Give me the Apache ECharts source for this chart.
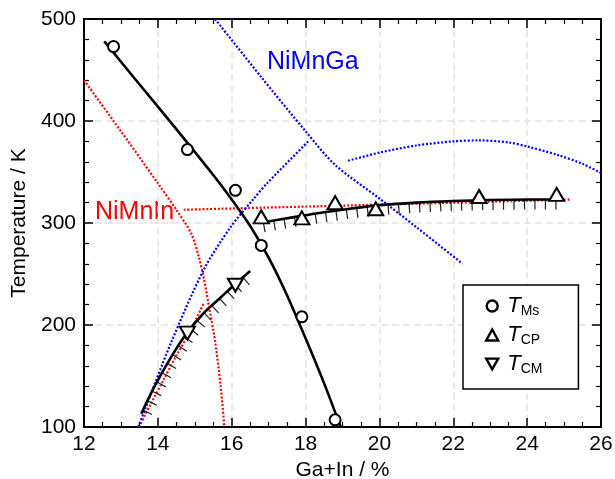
<!DOCTYPE html>
<html>
<head>
<meta charset="utf-8">
<script src="https://cdn.jsdelivr.net/npm/echarts@6/dist/echarts.min.js"></script>
<style>
  html, body { margin: 0; padding: 0; background: #fff; }
  #chart { width: 615px; height: 479px; }
</style>
</head>
<body>
<div id="chart"></div>
<script>
// measured points
const msX = [12.8, 14.8, 16.1, 16.8, 17.9, 18.8]
const msT = [473, 372, 332, 278, 208, 107]
const cpX = [16.8, 17.9, 18.8, 19.9, 22.7, 24.8]
const cpT = [306, 305, 320, 314, 326, 328]
const cmX = [14.8, 16.1]
const cmT = [192, 239]

// guide curves (black, drawn by hand in the original)
const msFitX = [12.55, 13.5, 14.5, 15.5, 16.0, 16.5, 17.0, 17.5, 18.0, 18.5, 18.95]
const msFitT = [478, 436, 392, 347, 323, 297, 266, 229, 187, 143, 100]
const cpFitX = [16.75, 17.3, 17.9, 18.5, 19.2, 20.0, 21.0, 22.0, 23.0, 24.0, 25.0]
const cpFitT = [300, 303.5, 307, 310.5, 314, 317.5, 320, 321.5, 322.5, 323, 323]
const cmFitX = [13.55, 13.9, 14.35, 14.76, 15.25, 15.7, 16.06, 16.5]
const cmFitT = [113, 139, 168, 191, 212, 227, 239, 253]

// NiMnIn phase diagram (red dotted)
const inAX = [12.0, 13.0, 14.0, 14.5, 14.9, 15.1, 15.25, 15.4, 15.55, 15.7, 15.8]
const inAT = [440, 390, 339, 313, 290, 268, 245, 215, 184, 140, 100]
const inBX = [13.49, 13.8, 14.15, 14.5, 14.85, 15.25]
const inBT = [100, 122, 146, 170, 192, 222]
const inCX = [14.7, 20.0, 25.2]
const inCT = [313, 318, 323]

// NiMnGa phase diagram (blue dotted)
const gaAX = [13.47, 13.68, 14.35, 15.24, 15.97, 16.6, 16.96, 18.1]
const gaAT = [100, 120, 182, 254, 296, 324, 339, 381]
const gaBX = [15.55, 16.8, 18.0, 18.8, 20.0, 21.0, 22.25]
const gaBT = [500, 443, 390, 357, 324, 296, 260]
const gaCX = [19.15, 20.0, 21.0, 22.0, 22.7, 23.5, 24.0, 24.8, 25.5, 26.0]
const gaCT = [361, 369, 376, 380, 381, 379, 375, 367, 358, 349]

const xTicks = [12, 14, 16, 18, 20, 22, 24, 26]
const yTicks = [100, 200, 300, 400, 500]

const FONT = 'Liberation Sans'
const zip = (xs, ys) => xs.map((x, i) => [x, ys[i]])

const dotted = (name, xs, ys, color) => ({
    name: name,
    type: 'line',
    data: zip(xs, ys),
    smooth: 0.3,
    showSymbol: false,
    silent: true,
    z: 1,
    lineStyle: { color: color, width: 2.2, type: [2, 1.8] }
})

const guide = (xs, ys) => ({
    type: 'line',
    data: zip(xs, ys),
    smooth: 0.3,
    showSymbol: false,
    silent: true,
    z: 3,
    lineStyle: { color: '#000', width: 2.6 }
})

// hatch marks: short strokes normal to the guide curve, on its lower side
const hatch = (xs, ys) => ({
    type: 'custom',
    silent: true,
    z: 2,
    data: [[xs[0], ys[0]]],
    renderItem: function (params, api) {
        const pts = xs.map((x, i) => api.coord([x, ys[i]]))
        const step = 10.5, len = 10
        const children = []
        let next = 4
        for (let i = 0; i < pts.length - 1; i++) {
            const a = pts[i], b = pts[i + 1]
            const dx = b[0] - a[0], dy = b[1] - a[1]
            const seg = Math.sqrt(dx * dx + dy * dy)
            const nx = -dy / seg, ny = dx / seg
            let t = next
            while (t <= seg) {
                const px = a[0] + dx * t / seg, py = a[1] + dy * t / seg
                children.push({
                    type: 'line',
                    shape: { x1: px, y1: py, x2: px + nx * len, y2: py + ny * len },
                    style: { stroke: '#222', lineWidth: 1.2 }
                })
                t += step
            }
            next = t - seg
        }
        return { type: 'group', children: children }
    }
})

const markerStyle = { color: '#000', borderColor: '#000', borderWidth: 2.4, opacity: 1 }
const iconStyle = { color: '#fff', borderColor: '#000', borderWidth: 2.4, opacity: 1 }

const axisX = (pos, labels) => ({
    type: 'value',
    position: pos,
    min: xTicks[0],
    max: xTicks[xTicks.length - 1],
    interval: 2,
    axisLine: { onZero: false, lineStyle: { color: '#000', width: 2 } },
    axisTick: { inside: true, length: 9, lineStyle: { color: '#000', width: 1.5 } },
    minorTick: { show: true, splitNumber: 4, length: 5, lineStyle: { color: '#000', width: 1.2 } },
    axisLabel: { show: labels, color: '#000', fontSize: 21, fontFamily: FONT, margin: 7 },
    splitLine: { show: labels, lineStyle: { color: '#e2e2e2', width: 1.5, type: [7, 4] } },
    name: labels ? 'Ga+In / %' : '',
    nameLocation: 'middle',
    nameGap: 31,
    nameTextStyle: { color: '#000', fontSize: 21, fontFamily: FONT }
})

const axisY = (pos, labels) => ({
    type: 'value',
    position: pos,
    min: yTicks[0],
    max: yTicks[yTicks.length - 1],
    interval: 100,
    axisLine: { onZero: false, lineStyle: { color: '#000', width: 2 } },
    axisTick: { inside: true, length: 9, lineStyle: { color: '#000', width: 1.5 } },
    minorTick: { show: true, splitNumber: 5, length: 5, lineStyle: { color: '#000', width: 1.2 } },
    axisLabel: { show: labels, color: '#000', fontSize: 21, fontFamily: FONT, margin: 8 },
    splitLine: { show: labels, lineStyle: { color: '#e2e2e2', width: 1.5, type: [7, 4] } },
    name: labels ? 'Temperature / K' : '',
    nameLocation: 'middle',
    nameGap: 45,
    nameTextStyle: { color: '#000', fontSize: 21, fontFamily: FONT }
})

const legendNames = { TMs: 'Ms', TCP: 'CP', TCM: 'CM' }

const chart = echarts.init(document.getElementById('chart'), null, { renderer: 'canvas' })
chart.setOption({
    animation: false,
    backgroundColor: '#fff',
    grid: { left: 84, right: 14, top: 19, bottom: 52, outerBoundsMode: 'none' },
    xAxis: [axisX('bottom', true), axisX('top', false)],
    yAxis: [axisY('left', true), axisY('right', false)],
    legend: {
        orient: 'vertical',
        left: 463,
        top: 285,
        padding: [10, 36, 13, 22],
        itemGap: 6,
        itemWidth: 12,
        itemHeight: 11,
        borderColor: '#000',
        borderWidth: 1.5,
        borderRadius: 0,
        backgroundColor: '#fff',
        data: [
            { name: 'TMs', icon: 'circle', itemStyle: iconStyle },
            { name: 'TCP', icon: 'triangle', itemStyle: iconStyle },
            { name: 'TCM', icon: 'path://M0,0 L10,0 L5,9 Z', itemStyle: iconStyle }
        ],
        formatter: name => '{t|T}{s|' + legendNames[name] + '}',
        textStyle: {
            color: '#000',
            fontFamily: FONT,
            rich: {
                t: { fontSize: 22, fontStyle: 'italic', lineHeight: 24, fontFamily: FONT, padding: [0, 0, 0, 4] },
                s: { fontSize: 14, lineHeight: 13, verticalAlign: 'bottom', fontFamily: FONT }
            }
        }
    },
    graphic: [
        { type: 'text', left: 267, top: 50, style: { text: 'NiMnGa', fill: '#0000ff', fontSize: 25, fontFamily: FONT } },
        { type: 'text', left: 95, top: 200, style: { text: 'NiMnIn', fill: '#ff0000', fontSize: 25, fontFamily: FONT } }
    ],
    series: [
        dotted('in-a', inAX, inAT, '#ff0000'),
        dotted('in-b', inBX, inBT, '#ff0000'),
        dotted('in-c', inCX, inCT, '#ff0000'),
        dotted('ga-a', gaAX, gaAT, '#0000ff'),
        dotted('ga-b', gaBX, gaBT, '#0000ff'),
        dotted('ga-c', gaCX, gaCT, '#0000ff'),
        hatch(cpFitX, cpFitT),
        hatch(cmFitX, cmFitT),
        guide(msFitX, msFitT),
        guide(cpFitX, cpFitT),
        guide(cmFitX, cmFitT),
        {
            name: 'TMs', type: 'scatter', z: 5,
            symbol: 'emptyCircle', symbolSize: 11,
            data: zip(msX, msT), itemStyle: markerStyle
        },
        {
            name: 'TCP', type: 'scatter', z: 5,
            symbol: 'emptyTriangle', symbolSize: [15, 13],
            data: zip(cpX, cpT), itemStyle: markerStyle
        },
        {
            name: 'TCM', type: 'scatter', z: 5,
            symbol: 'emptyTriangle', symbolSize: [15, 13], symbolRotate: 180,
            data: zip(cmX, cmT), itemStyle: markerStyle
        }
    ]
})
</script>
</body>
</html>
